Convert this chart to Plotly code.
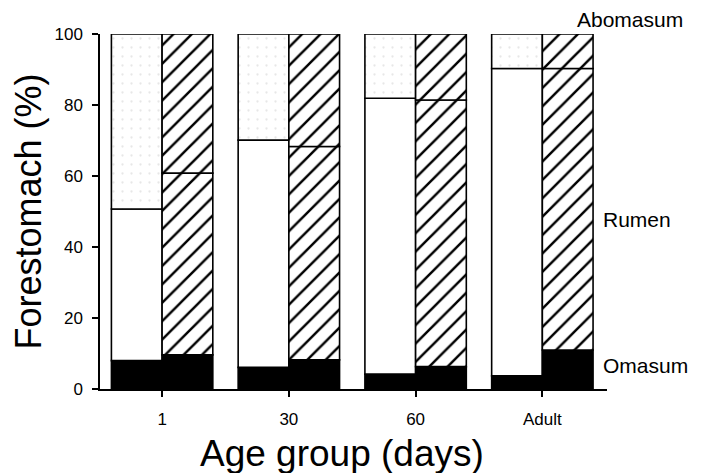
import plotly.graph_objects as go

categories = ["1", "30", "60", "Adult"]
# left bar of each group (black / white / stippled)
omasum_a = [8.0, 6.1, 4.2, 3.7]
rumen_a = [42.7, 64.0, 77.7, 86.6]
abomasum_a = [49.3, 29.9, 18.1, 9.7]
# right bar of each group (black / hatched / hatched)
omasum_b = [9.6, 8.2, 6.3, 11.0]
rumen_b = [51.2, 60.1, 75.1, 79.3]
abomasum_b = [39.2, 31.7, 18.6, 9.7]
yticks = [0, 20, 40, 60, 80, 100]

idx = list(range(len(categories)))
xa = [i - 0.2 for i in idx]
xb = [i + 0.2 for i in idx]
W = 0.4
line = dict(color="black", width=1.6)
FONT = "Liberation Sans, Arial, sans-serif"

fig = go.Figure()
fig.add_bar(x=xa, y=omasum_a, width=W, marker=dict(color="black", line=line))
fig.add_bar(x=xa, y=rumen_a, width=W, marker=dict(color="white", line=line))
fig.add_bar(x=xa, y=abomasum_a, width=W,
            marker=dict(color="white", line=line,
                        pattern=dict(shape=".", fgcolor="#cfcfcf", bgcolor="white",
                                     size=9, solidity=0.05)))
fig.add_bar(x=xb, y=omasum_b, width=W, marker=dict(color="black", line=line))
hatch = dict(shape="/", fgcolor="black", fgopacity=1, bgcolor="white",
             fillmode="replace", size=13, solidity=0.19)
fig.add_bar(x=xb, y=rumen_b, width=W, marker=dict(color="white", line=line, pattern=hatch))
fig.add_bar(x=xb, y=abomasum_b, width=W,
            marker=dict(color="white", line=dict(color="black", width=1.6), pattern=hatch))

fig.update_layout(
    barmode="relative",
    width=695, height=465,
    margin=dict(l=92, r=96, t=26, b=84),
    paper_bgcolor="white", plot_bgcolor="white",
    showlegend=False,
    font=dict(family=FONT, color="black", size=17),
    xaxis=dict(range=[-0.49, 3.51], tickvals=idx, ticktext=categories,
               showline=True, linecolor="black", linewidth=1.5,
               ticks="outside", ticklen=6, tickwidth=1.5, tickcolor="black",
               ticklabelstandoff=8,
               showgrid=False, zeroline=False,
               tickfont=dict(size=17)),
    yaxis=dict(range=[0, 100], tickvals=yticks,
               showline=True, linecolor="black", linewidth=1.5,
               ticks="outside", ticklen=6, tickwidth=1.5, tickcolor="black",
               ticklabelstandoff=6,
               showgrid=False, zeroline=False,
               tickfont=dict(size=17),
               title=dict(text="Forestomach (%)", font=dict(size=36), standoff=6)),
)

# x-axis title (slightly left of plot centre, as in the original)
fig.add_annotation(text="Age group (days)", xref="paper", yref="paper",
                   x=(342 - 100) / 507, y=(389 - 453) / 355,
                   xanchor="center", yanchor="middle", showarrow=False,
                   font=dict(size=37))
fig.add_annotation(text="Abomasum", xref="paper", yref="paper", x=(575 - 100) / 507,
                   y=(389 - 19) / 355, xanchor="left", yanchor="middle",
                   showarrow=False, font=dict(size=21))
fig.add_annotation(text="Rumen", xref="paper", yref="paper", x=(601 - 100) / 507,
                   y=(389 - 219) / 355, xanchor="left", yanchor="middle",
                   showarrow=False, font=dict(size=21))
fig.add_annotation(text="Omasum", xref="paper", yref="paper", x=(601 - 100) / 507,
                   y=(389 - 365) / 355, xanchor="left", yanchor="middle",
                   showarrow=False, font=dict(size=21))

fig.write_html("out.html")
